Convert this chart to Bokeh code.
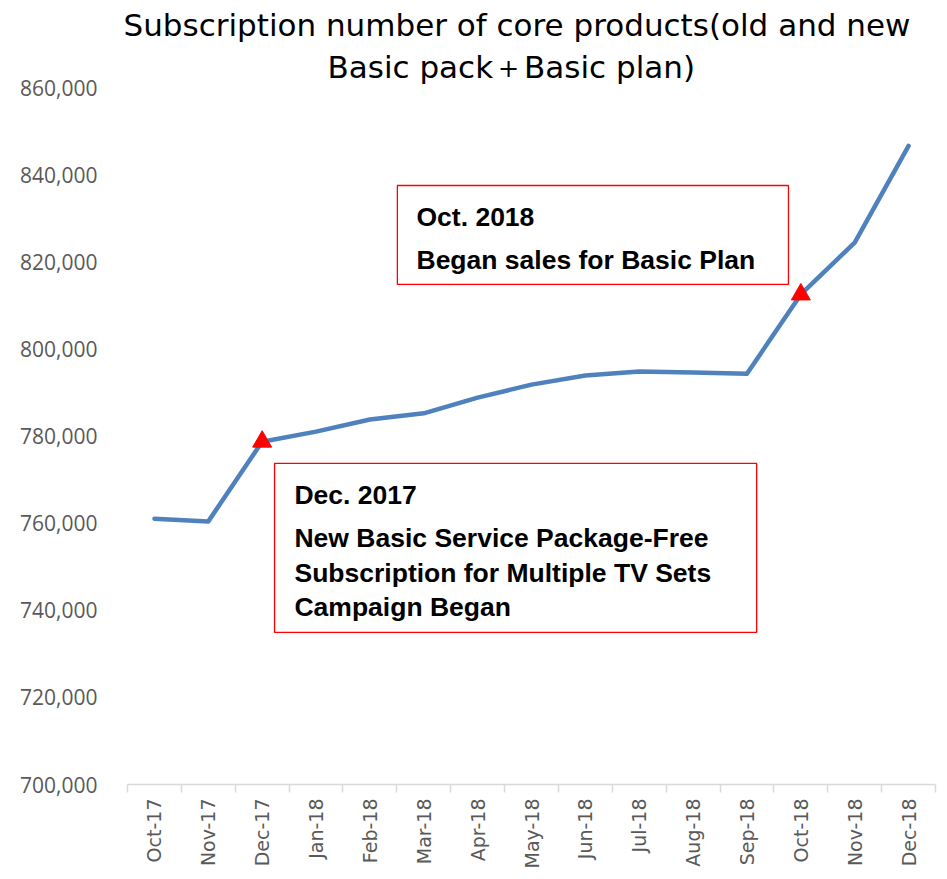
from bokeh.plotting import figure
from bokeh.models import (Range1d, FixedTicker, LinearAxis, NumeralTickFormatter,
                          BoxAnnotation, Label, ColumnDataSource, Title)
from bokeh.embed import file_html
from bokeh.resources import INLINE

# ---- data ----
months = ["Oct-17", "Nov-17", "Dec-17", "Jan-18", "Feb-18", "Mar-18", "Apr-18",
          "May-18", "Jun-18", "Jul-18", "Aug-18", "Sep-18", "Oct-18", "Nov-18", "Dec-18"]
subscriptions = [761000, 760400, 778700, 781000, 783800, 785200, 788800,
                 791800, 793900, 794800, 794600, 794300, 812500, 824400, 846600]
highlight_months = ["Dec-17", "Oct-18"]
y_ticks = [700000, 720000, 740000, 760000, 780000, 800000, 820000, 840000, 860000]

title_lines = ["Subscription number of core products(old and new",
               "Basic pack\uff0bBasic plan)"]
note1_lines = ["Oct. 2018", "Began sales for Basic Plan"]
note2_lines = ["Dec. 2017", "New Basic Service Package-Free",
               "Subscription for Multiple TV Sets", "Campaign Began"]

# ---- derived positions ----
x_pos = [i + 0.5 for i in range(len(months))]
src = ColumnDataSource(dict(x=x_pos, y=subscriptions))
hl_idx = [months.index(m) for m in highlight_months]
hl_src = ColumnDataSource(dict(x=[x_pos[i] for i in hl_idx],
                               y=[subscriptions[i] for i in hl_idx]))

p = figure(width=939, height=871, output_backend="svg", toolbar_location=None,
           x_range=Range1d(0, len(months)), y_range=Range1d(700000, 860000),
           x_axis_type=None, y_axis_type=None,
           min_border_left=127, min_border_right=4, min_border_top=87, min_border_bottom=87)
p.outline_line_color = None
p.background_fill_color = "white"
p.border_fill_color = "white"

# title (two lines; later-added titles sit further from the frame)
title_offsets = [-4, 200]
title_standoffs = [4, 5]
for txt, off, so in reversed(list(zip(title_lines, title_offsets, title_standoffs))):
    p.add_layout(Title(text=txt, align="left", offset=off, text_font="DejaVu Sans",
                       text_font_size="31px", text_font_style="normal",
                       text_color="black", standoff=so), "above")

# y axis
yax = LinearAxis(ticker=FixedTicker(ticks=y_ticks),
                 formatter=NumeralTickFormatter(format="0,0"))
yax.axis_line_color = None
yax.major_tick_line_color = None
yax.minor_tick_line_color = None
yax.major_label_standoff = 24
yax.major_label_text_font = "Open Sans"
yax.major_label_text_font_size = "21px"
yax.major_label_text_color = "#595959"
p.add_layout(yax, "left")

# x axis
xax = LinearAxis(ticker=FixedTicker(ticks=x_pos, minor_ticks=list(range(len(months) + 1))))
xax.major_label_overrides = {x: m for x, m in zip(x_pos, months)}
xax.major_label_orientation = 3.14159265 / 2
xax.axis_line_color = "#d9d9d9"
xax.axis_line_width = 1.5
xax.major_tick_line_color = None
xax.major_tick_out = 0
xax.major_tick_in = 0
xax.minor_tick_line_color = "#d9d9d9"
xax.minor_tick_line_width = 1.5
xax.minor_tick_out = 8
xax.minor_tick_in = 0
xax.major_label_standoff = 6
xax.major_label_text_font = "DejaVu Sans"
xax.major_label_text_font_size = "19px"
xax.major_label_text_color = "#595959"
p.add_layout(xax, "below")

# grid
p.ygrid.ticker = FixedTicker(ticks=y_ticks)
p.ygrid.grid_line_color = "#d9d9d9"
p.ygrid.grid_line_width = 1.2
p.xgrid.grid_line_color = None

# line + markers
p.line("x", "y", source=src, line_color="#4F81BD", line_width=4.5,
       line_join="round", line_cap="round")
p.scatter("x", "y", source=hl_src, marker="triangle", size=19,
          fill_color="#FF0000", line_color="#FF0000")

# annotation boxes
box1 = BoxAnnotation(left=5.01, right=12.27, top=837500, bottom=814800,
                     fill_color="white", fill_alpha=1.0,
                     line_color="#FF0000", line_width=1.3, line_alpha=1.0)
box2 = BoxAnnotation(left=2.73, right=11.68, top=773700, bottom=734900,
                     fill_color="white", fill_alpha=1.0,
                     line_color="#FF0000", line_width=1.3, line_alpha=1.0)
p.add_layout(box1)
p.add_layout(box2)

note1_y = [830300, 820400]
note2_y = [766500, 756600, 748600, 740800]
for txt, yv in zip(note1_lines, note1_y):
    p.add_layout(Label(x=5.365, y=yv, text=txt, text_font="Liberation Sans",
                       text_font_style="bold", text_font_size="26.5px",
                       text_baseline="middle", text_color="black"))
for txt, yv in zip(note2_lines, note2_y):
    p.add_layout(Label(x=3.10, y=yv, text=txt, text_font="Liberation Sans",
                       text_font_style="bold", text_font_size="26.5px",
                       text_baseline="middle", text_color="black"))

open("out.html", "w").write(file_html(p, INLINE))
